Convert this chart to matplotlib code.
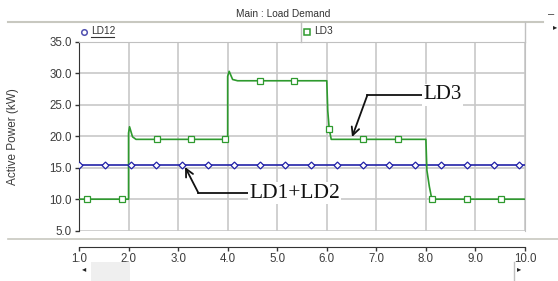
import matplotlib
matplotlib.use("Agg")
import matplotlib.pyplot as plt
from matplotlib.lines import Line2D

plt.rcParams['font.family'] = ['Liberation Sans', 'DejaVu Sans']

# LD12 (blue, diamonds) - nearly flat around 15.5 kW
ld12_t = [1.0, 10.0]
ld12_v = [15.5, 15.5]
ld12_mt = [1.0, 1.52, 2.04, 2.56, 3.08, 3.61, 4.13, 4.65, 5.15, 5.68,
           6.2, 6.73, 7.25, 7.78, 8.3, 8.83, 9.37, 9.87]
ld12_mv = [15.5] * len(ld12_mt)

# LD3 (green, squares) - stepped load
ld3_t = [1.0, 2.0, 2.0, 2.02, 2.08, 2.15, 4.0, 4.0, 4.03, 4.1, 4.2,
         6.0, 6.02, 6.05, 6.09, 8.0, 8.02, 8.07, 8.12, 10.0]
ld3_v = [10.0, 10.0, 20.5, 21.5, 19.9, 19.5, 19.5, 29.5, 30.3, 29.0, 28.8,
         28.8, 24.0, 21.1, 19.5, 19.5, 14.6, 12.0, 10.0, 10.0]
ld3_mt = [1.17, 1.87, 2.57, 3.26, 3.95, 4.65, 5.34, 6.04, 6.74, 7.43, 8.13, 8.82, 9.52]
ld3_mv = [10.0, 10.0, 19.5, 19.5, 19.5, 28.8, 28.8, 21.1, 19.5, 19.5, 10.0, 10.0, 10.0]

xticks = [1.0, 2.0, 3.0, 4.0, 5.0, 6.0, 7.0, 8.0, 9.0, 10.0]
yticks = [5.0, 10.0, 15.0, 20.0, 25.0, 30.0, 35.0]

W, H = 558, 281
fig = plt.figure(figsize=(W / 100, H / 100), dpi=100)
fig.patch.set_facecolor('white')

def fx(px):
    return px / W

def fy(py):
    return 1 - py / H

ax = fig.add_axes([fx(79), fy(230.7), (525 - 79) / W, (230.7 - 41.7) / H])
ax.set_xlim(1, 10)
ax.set_ylim(5, 35)
ax.set_xticks(xticks)
ax.set_yticks(yticks)
ax.set_xticklabels(['%.1f' % v for v in xticks])
ax.set_yticklabels(['%.1f' % v for v in yticks])
ax.grid(True, color='#c8c8c8', linewidth=1.2)
ax.set_axisbelow(True)

for s in ['top', 'right']:
    ax.spines[s].set_color('#c0c0c0')
ax.spines['left'].set_color('#333333')
ax.spines['bottom'].set_color('#333333')
ax.spines['bottom'].set_position(('outward', 12))
ax.tick_params(axis='both', labelsize=8.3, labelcolor='#3c3c3c', color='#333333',
               length=3, width=1, pad=2)
ax.tick_params(axis='x', pad=1)

ax.set_ylabel('Active Power (kW)', fontsize=8.5, color='#3c3c3c')
ax.yaxis.set_label_coords(-0.135, 0.5)

blue = '#2222a8'
green = '#2e9a2e'
ax.plot(ld12_t, ld12_v, color=blue, lw=1.2, zorder=3)
ax.plot(ld12_mt, ld12_mv, ls='none', marker='D', ms=3.5, mfc='white', mec=blue,
        mew=0.9, zorder=4)
ax.plot(ld3_t, ld3_v, color=green, lw=1.2, zorder=3)
ax.plot(ld3_mt, ld3_mv, ls='none', marker='s', ms=4.5, mfc='white', mec=green,
        mew=0.9, zorder=4)

# annotations
ax.text(7.95, 26.54, 'LD3', family=['Liberation Serif'], fontsize=15, va='center',
        ha='left', color='#111111', zorder=6,
        bbox=dict(facecolor='white', edgecolor='none', pad=1))
ax.plot([7.95, 6.82], [26.54, 26.54], color='#111111', lw=1.3, zorder=5)
ax.annotate('', xy=(6.51, 19.87), xytext=(6.82, 26.54), zorder=5,
            arrowprops=dict(arrowstyle='->', color='#111111', lw=1.3,
                            shrinkA=0, shrinkB=0, mutation_scale=14))
ax.text(4.43, 10.98, 'LD1+LD2', family=['Liberation Serif'], fontsize=15.5, va='center',
        ha='left', color='#111111', zorder=6,
        bbox=dict(facecolor='white', edgecolor='none', pad=1))
ax.plot([4.43, 3.41], [10.98, 10.98], color='#111111', lw=1.3, zorder=5)
ax.annotate('', xy=(3.14, 15.11), xytext=(3.41, 10.98), zorder=5,
            arrowprops=dict(arrowstyle='->', color='#111111', lw=1.3,
                            shrinkA=0, shrinkB=0, mutation_scale=14))

# header, legend bar and frame decorations
fig.text(fx(283), fy(14), 'Main : Load Demand', fontsize=7.3, color='#333333',
         ha='center', va='center')
fig.add_artist(Line2D([fx(8), fx(543)], [fy(22), fy(22)], color='#c8c8c0', lw=1.5))
fig.text(fx(551), fy(14), '\u2013', fontsize=8, color='#333333', ha='center', va='center')
fig.text(fx(555), fy(28), '\u25b8', fontsize=6, color='#222222', ha='center', va='center')
fig.add_artist(Line2D([fx(301), fx(301)], [fy(22), fy(41.7)], color='#c0c0c0', lw=1))
fig.add_artist(Line2D([fx(525), fx(525)], [fy(22), fy(41.7)], color='#c0c0c0', lw=1))
fig.add_artist(Line2D([fx(84)], [fy(31.5)], marker='o', ms=4, mfc='white', mec='#5050b0',
                      mew=1.1, ls='none'))
fig.text(fx(91), fy(31.5), 'LD12', fontsize=7.3, color='#333333', ha='left', va='center')
fig.add_artist(Line2D([fx(91), fx(114)], [fy(37), fy(37)], color='#333333', lw=0.8))
fig.add_artist(Line2D([fx(307)], [fy(31.5)], marker='s', ms=4.5, mfc='white', mec=green,
                      mew=1.1, ls='none'))
fig.text(fx(314), fy(31.5), 'LD3', fontsize=7.3, color='#333333', ha='left', va='center')

fig.add_artist(Line2D([fx(8), fx(558)], [fy(239.3), fy(239.3)], color='#c8c8c0', lw=1.2))

# scrollbar
fig.text(fx(84), fy(270), '\u25c2', fontsize=6, color='#222222', ha='center', va='center')
fig.patches.append(plt.Rectangle((fx(91), 0), fx(39), fy(262), transform=fig.transFigure,
                                 facecolor='#efefef', edgecolor='none'))
fig.text(fx(519), fy(270), '\u25b8', fontsize=6, color='#222222', ha='center', va='center')
fig.add_artist(Line2D([fx(514), fx(514)], [fy(262), 0], color='#c0c0c0', lw=1))

fig.savefig('out.png', dpi=100)
